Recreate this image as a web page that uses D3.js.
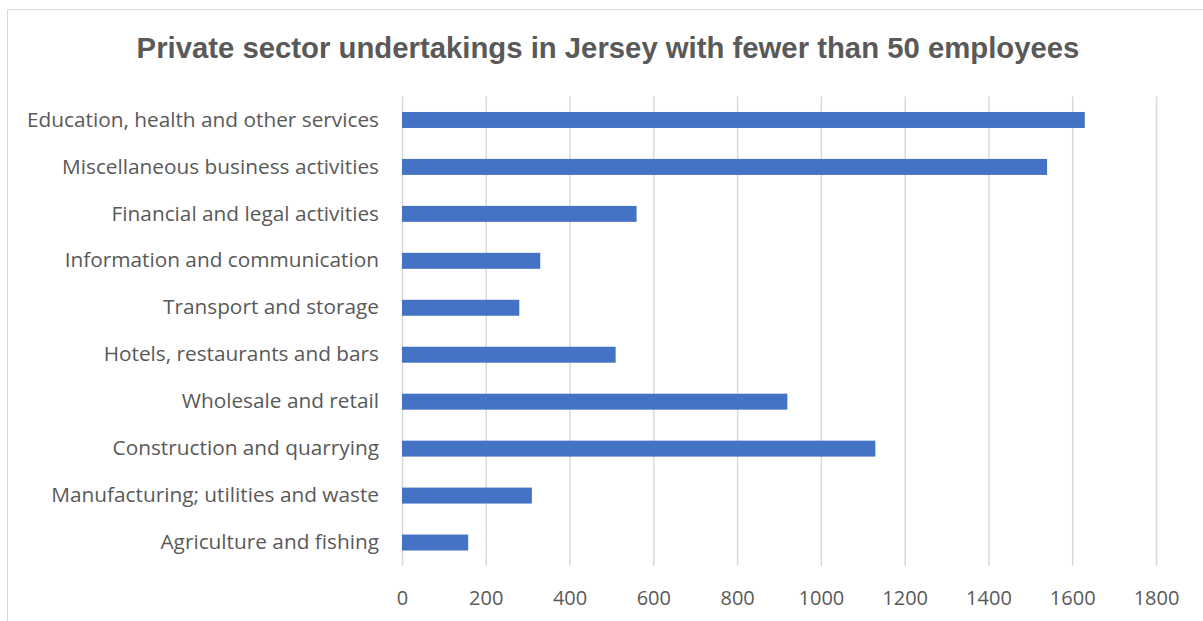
<!DOCTYPE html>
<html>
<head>
<meta charset="utf-8">
<script src="https://cdn.jsdelivr.net/npm/d3@7"></script>
<style>
html,body{margin:0;padding:0;background:#fff;}
svg{display:block;}
</style>
</head>
<body>
<svg id="chart" width="1203" height="621"></svg>
<script>
const categories = [
  "Education, health and other services",
  "Miscellaneous business activities",
  "Financial and legal activities",
  "Information and communication",
  "Transport and storage",
  "Hotels, restaurants and bars",
  "Wholesale and retail",
  "Construction and quarrying",
  "Manufacturing; utilities and waste",
  "Agriculture and fishing"
];
const values = [1630, 1540, 560, 330, 280, 510, 920, 1130, 310, 158];
const xTicks = [0, 200, 400, 600, 800, 1000, 1200, 1400, 1600, 1800];
const title = "Private sector undertakings in Jersey with fewer than 50 employees";

const svg = d3.select("#chart");
const margin = {left: 402, right: 1203 - 1156, top: 96.5, bottom: 621 - 566};
const W = 1203, H = 621;

// outer border
svg.append("rect")
  .attr("x", 7.5).attr("y", 9.5)
  .attr("width", W + 10).attr("height", H + 10)
  .attr("fill", "#fff").attr("stroke", "#d9d9d9").attr("stroke-width", 1);

const x = d3.scaleLinear().domain([0, 1800]).range([margin.left, W - margin.right]);
const y = d3.scaleBand().domain(categories).range([margin.top, H - margin.bottom])
  .paddingInner(0.66).paddingOuter(0.33);

// gridlines
const grid = svg.append("g")
  .attr("transform", `translate(0,${H - margin.bottom})`)
  .call(d3.axisBottom(x).tickValues(xTicks).tickSize(-(H - margin.bottom - margin.top)).tickFormat(""));
grid.select(".domain").remove();
grid.selectAll("line").attr("stroke", "#d9d9d9").attr("stroke-width", 1.5);

// tick labels
const xAxis = svg.append("g")
  .attr("transform", `translate(0,${H - margin.bottom})`)
  .call(d3.axisBottom(x).tickValues(xTicks).tickSize(0).tickPadding(25).tickFormat(d3.format("d")));
xAxis.select(".domain").remove();
xAxis.selectAll("text")
  .attr("fill", "#595959")
  .style("font-family", "'Open Sans', 'Liberation Sans', sans-serif")
  .style("font-size", "20px");

// category labels
const yAxis = svg.append("g")
  .attr("transform", `translate(${margin.left},0)`)
  .call(d3.axisLeft(y).tickSize(0).tickPadding(23));
yAxis.select(".domain").remove();
yAxis.selectAll("text")
  .attr("fill", "#595959")
  .style("font-family", "'Open Sans', 'Liberation Sans', sans-serif")
  .style("font-size", "20.8px");

// bars
svg.append("g").selectAll("rect")
  .data(categories)
  .join("rect")
  .attr("x", x(0))
  .attr("y", d => y(d))
  .attr("width", (d, i) => x(values[i]) - x(0))
  .attr("height", y.bandwidth())
  .attr("fill", "#4472C4");

// title
svg.append("text")
  .attr("x", 608).attr("y", 58)
  .attr("text-anchor", "middle")
  .attr("fill", "#595959")
  .style("font-family", "'Liberation Sans', Arial, sans-serif")
  .style("font-weight", "bold")
  .style("font-size", "29.3px")
  .text(title);
</script>
</body>
</html>
